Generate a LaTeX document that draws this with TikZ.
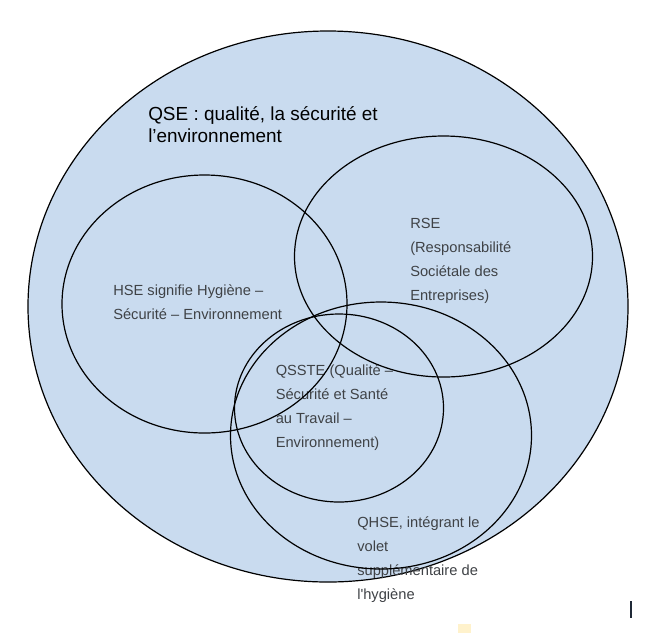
\documentclass[tikz,border=0pt]{standalone}
\usepackage{fontspec}
\setmainfont{Liberation Sans}
\usepackage{xcolor}
\definecolor{clQse}{HTML}{C9DBEF}
\definecolor{clText}{HTML}{3F4246}
\definecolor{clCursor}{HTML}{1F2937}
\definecolor{clMark}{HTML}{FFF2CC}
\usepackage{tikz}
\usetikzlibrary{shapes.geometric}
\tikzset{
  region/.style={ellipse, draw=black, line width=0.9pt, inner sep=0pt, outer sep=0pt},
  qse/.style={region, fill=clQse},
  lbl/.style={anchor=base west, inner sep=0pt, align=left, text=clText,
              font=\fontsize{11pt}{18pt}\selectfont},
  title/.style={lbl, text=black, font=\fontsize{14.2pt}{16pt}\selectfont},
}

\begin{document}
\begin{tikzpicture}[x=0.75pt, y=-0.75pt]
  \useasboundingbox (0,0) rectangle (659,633);
  \node[qse, minimum width=450pt, minimum height=413.25pt] (qse) at (328,306.5) {};
  % labels (placed at the baseline of their last line)
  \node[title] (qseText) at (148,142) {QSE : qualité, la sécurité et\\l’environnement};
  \node[lbl] (hseText) at (113,319.5) {HSE signifie Hygiène –\\Sécurité – Environnement};
  \node[lbl] (rseText) at (410,300) {RSE\\(Responsabilité\\Sociétale des\\Entreprises)};
  \node[lbl] (qssteText) at (275.5,447) {QSSTE (Qualité –\\Sécurité et Santé\\au Travail –\\Environnement)};
  \node[lbl] (qhseText) at (357,599) {QHSE, intégrant le\\volet\\supplémentaire de\\l\textquotesingle hygiène};
  % inner sets
  \node[region, minimum width=213.75pt, minimum height=193.5pt] (hse) at (204.5,304) {};
  \node[region, minimum width=223.5pt, minimum height=180.75pt] (rse) at (443.5,256.5) {};
  \node[region, minimum width=156.75pt, minimum height=141pt] (qsste) at (339,408) {};
  \node[region, minimum width=225.75pt, minimum height=200.25pt] (qhse) at (381,435.5) {};
  % page marks
  \draw[clCursor, line width=1.5pt] (631,601) -- (631,618);
  \fill[clMark] (458,624) rectangle (471,633);
\end{tikzpicture}
\end{document}
